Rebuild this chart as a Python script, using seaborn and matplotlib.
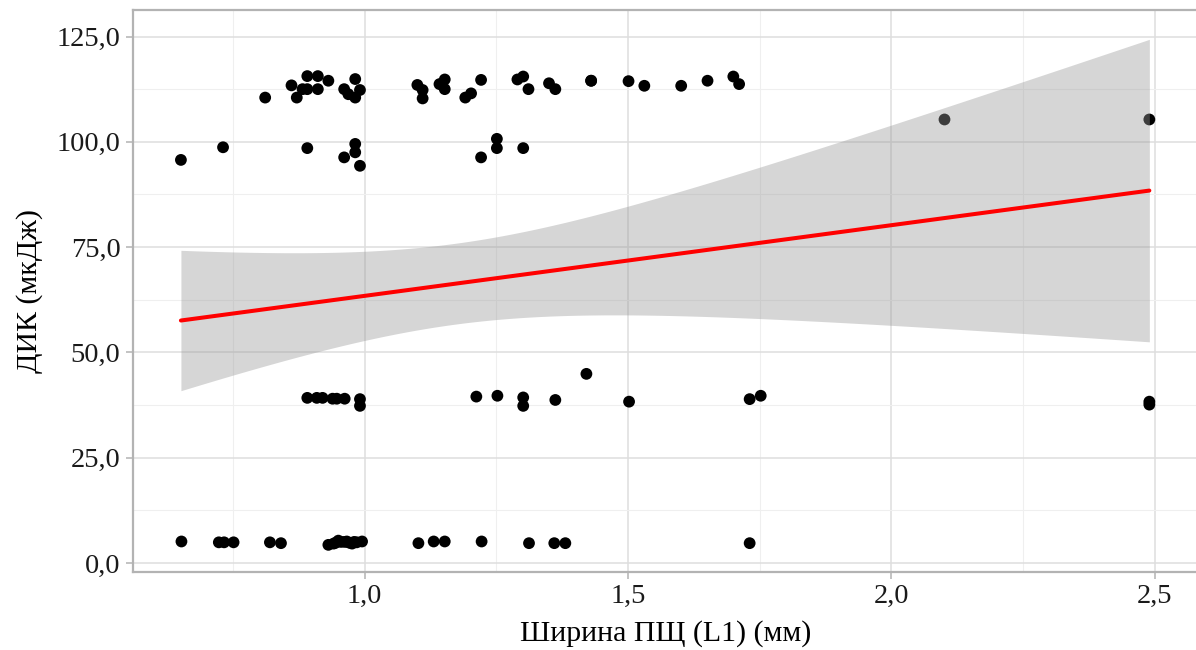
import numpy as np
import pandas as pd
import matplotlib
matplotlib.use("Agg")
import matplotlib.pyplot as plt
from matplotlib.ticker import MultipleLocator, FuncFormatter
import seaborn as sns

# Upper energy group (ДИК ~ 95–116 мкДж)
width_high = [0.651, 0.731, 0.811, 0.861, 0.871, 0.882, 0.891, 0.891, 0.911, 0.911,
              0.931, 0.961, 0.969, 0.982, 0.982, 0.991, 0.891, 0.961, 0.982, 0.982,
              0.991, 1.100, 1.110, 1.110, 1.142, 1.152, 1.152, 1.191, 1.202, 1.221,
              1.290, 1.301, 1.311, 1.350, 1.362, 1.430, 1.430, 1.501, 1.531, 1.601,
              1.651, 1.700, 1.711, 1.251, 1.251, 1.221, 1.301, 2.101, 2.490]
energy_high = [95.7, 98.7, 110.5, 113.4, 110.5, 112.5, 115.6, 112.5, 115.6, 112.5,
               114.5, 112.5, 111.3, 114.9, 110.5, 112.3, 98.5, 96.3, 99.5, 97.5,
               94.3, 113.5, 112.3, 110.3, 113.7, 114.8, 112.5, 110.5, 111.5, 114.7,
               114.8, 115.5, 112.5, 113.9, 112.5, 114.5, 114.5, 114.4, 113.3, 113.3,
               114.5, 115.5, 113.7, 100.7, 98.5, 96.3, 98.5, 105.3, 105.3]

# Middle energy group (~37–45 мкДж)
width_mid = [0.891, 0.909, 0.920, 0.939, 0.947, 0.962, 0.991, 0.991, 1.212, 1.252,
             1.301, 1.301, 1.362, 1.421, 1.502, 1.731, 1.752, 2.490, 2.490]
energy_mid = [39.2, 39.2, 39.2, 39.0, 39.0, 39.0, 38.9, 37.3, 39.5, 39.7,
              39.3, 37.3, 38.7, 44.9, 38.3, 38.9, 39.7, 38.3, 37.6]

# Lower energy group (~5 мкДж)
width_low = [0.652, 0.723, 0.733, 0.751, 0.820, 0.841, 0.931, 0.941, 0.945, 0.950,
             0.955, 0.962, 0.966, 0.971, 0.976, 0.980, 0.985, 0.995, 1.102, 1.131,
             1.152, 1.222, 1.312, 1.360, 1.381, 1.731]
energy_low = [5.1, 4.9, 4.9, 4.9, 4.9, 4.7, 4.3, 4.6, 4.8, 5.3,
              5.0, 5.0, 5.1, 4.8, 4.6, 5.0, 4.9, 5.1, 4.7, 5.1,
              5.1, 5.1, 4.7, 4.7, 4.7, 4.7]

x_ticks = [1.0, 1.5, 2.0, 2.5]
y_ticks = [0, 25, 50, 75, 100, 125]
x_label = "Ширина ПЩ (L1) (мм)"
y_label = "ДИК (мкДж)"

df = pd.DataFrame({
    "width": width_high + width_mid + width_low,
    "energy": energy_high + energy_mid + energy_low,
})

sns.set_theme(style="white")
plt.rcParams["font.family"] = ["Liberation Serif", "DejaVu Serif"]

fig = plt.figure(figsize=(11.96, 6.5), dpi=100)
ax = fig.add_axes([0.1112, 0.1203, 0.8903, 0.8637])

# Grid (light theme)
ax.set_axisbelow(True)
ax.xaxis.set_major_locator(MultipleLocator(0.5))
ax.xaxis.set_minor_locator(MultipleLocator(0.25))
ax.yaxis.set_major_locator(MultipleLocator(25))
ax.yaxis.set_minor_locator(MultipleLocator(12.5))
ax.grid(which="major", color="#dedede", linewidth=1.1)
ax.grid(which="minor", color="#efefef", linewidth=0.8)

# Observations
sns.scatterplot(data=df, x="width", y="energy", ax=ax, color="black",
                s=72, edgecolor="none", linewidth=0, zorder=2)

# Linear fit with analytic 95% confidence band
x = df["width"].to_numpy()
y = df["energy"].to_numpy()
n = len(x)
slope, intercept = np.polyfit(x, y, 1)
resid = y - (intercept + slope * x)
dof = n - 2
s_err = np.sqrt(np.sum(resid ** 2) / dof)
z = 1.959964
t_crit = z + (z ** 3 + z) / (4 * dof)
xg = np.linspace(x.min(), x.max(), 200)
yg = intercept + slope * xg
se = s_err * np.sqrt(1.0 / n + (xg - x.mean()) ** 2 / np.sum((x - x.mean()) ** 2))
ax.fill_between(xg, yg - t_crit * se, yg + t_crit * se, color="#999999",
                alpha=0.4, linewidth=0, zorder=3)
sns.regplot(data=df, x="width", y="energy", ax=ax, scatter=False, ci=None,
            truncate=True, line_kws={"color": "#ff0000", "linewidth": 2.9,
                                     "zorder": 4})

ax.set_xlim(0.560, 2.582)
ax.set_ylim(-2.1, 131.2)
ax.set_xticks(x_ticks)
ax.set_yticks(y_ticks)
ax.xaxis.set_major_formatter(FuncFormatter(lambda v, p: f"{v:.1f}".replace(".", ",")))
ax.yaxis.set_major_formatter(FuncFormatter(lambda v, p: f"{v:.1f}".replace(".", ",")))

for side in ["left", "bottom", "top", "right"]:
    ax.spines[side].set_visible(True)
    ax.spines[side].set_color("#b3b3b3")
    ax.spines[side].set_linewidth(1.6)

ax.tick_params(axis="both", which="major", direction="out", length=5,
               width=1.1, color="#b3b3b3", labelsize=20.5, labelcolor="#1a1a1a",
               pad=4, bottom=True, left=True)
ax.tick_params(axis="both", which="minor", length=0)

ax.set_xlabel(x_label, fontsize=21.5, color="black", labelpad=8)
ax.set_ylabel(y_label, fontsize=21.5, color="black", labelpad=10)

fig.savefig("out.png", dpi=100)
